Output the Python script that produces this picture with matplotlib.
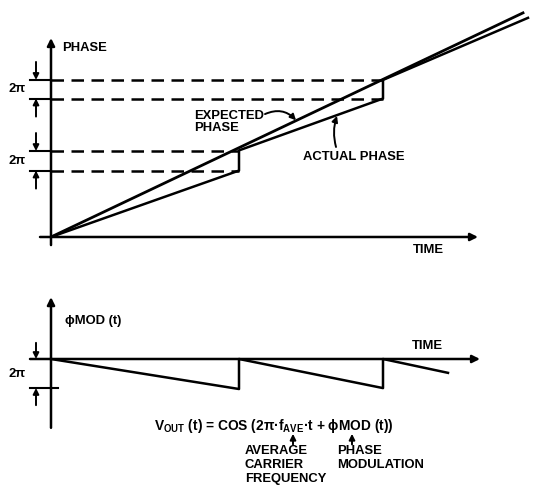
import matplotlib.pyplot as plt

plt.rcParams['font.family'] = ['Liberation Sans', 'DejaVu Sans']
plt.rcParams['font.weight'] = 'bold'
plt.rcParams['mathtext.fontset'] = 'custom'
plt.rcParams['mathtext.rm'] = 'Liberation Sans:bold'
plt.rcParams['mathtext.default'] = 'rm'

TWO_PI = 6.28

# top panel: phase (rad) vs time
t_expected = [0, 47.2]
phase_expected = [0, 72.2]
t_actual = [0, 18.8, 18.8, 33.2, 33.2, 47.7]
phase_actual = [0, 21.4, 27.9, 44.6, 50.6, 70.6]
jump_times = [18.8, 33.2]
wrap_levels = [(21.4, 27.7), (44.6, 50.6)]

# bottom panel: phase modulation (rad) vs time
t_mod = [0, 18.8, 18.8, 33.2, 33.2, 39.7]
phi_mod = [0, -6.5, 0, -6.3, 0, -3.0]

W, H = 533, 486
fig = plt.figure(figsize=(W / 100, H / 100), dpi=100)
top = fig.add_axes([0, 1 - 250 / H, 1, 250 / H])
bot = fig.add_axes([0, 0, 1, 236 / H])
top.set_xlim(-5.1, 48.2)
top.set_ylim(-4.19, 76.35)
bot.set_xlim(-5.1, 48.2)
bot.set_ylim(-27.5, 23.6)
for ax in (top, bot):
    ax.axis('off')

k = 'black'
fs = 9.4
axis_arrow = dict(arrowstyle='-|>', color=k, lw=1.8, mutation_scale=11,
                  shrinkA=0, shrinkB=0)
small_arrow = dict(arrowstyle='-|>', color=k, lw=1.4, mutation_scale=8.5,
                   shrinkA=0, shrinkB=0)


def arrow(ax, x0, y0, x1, y1, props, **kw):
    ax.annotate('', xy=(x1, y1), xytext=(x0, y0), arrowprops=dict(props, **kw))


# ---- top panel ----
arrow(top, 0, -2.6, 0, 64.1, axis_arrow)
arrow(top, -1.1, 0, 42.7, 0, axis_arrow)

for t_jump, (lo, hi) in zip(jump_times, wrap_levels):
    for lev in (lo, hi):
        top.plot([0, t_jump], [lev, lev], color=k, lw=1.8, ls=(0, (5, 3)))
        top.plot([-2.1, 0], [lev, lev], color=k, lw=1.5)
    arrow(top, -1.5, hi + 5.8, -1.5, hi, small_arrow)
    arrow(top, -1.5, lo - 5.8, -1.5, lo, small_arrow)
    top.text(-2.5, (lo + hi) / 2, '2π', ha='right', va='center', fontsize=fs)

top.plot(t_expected, phase_expected, color=k, lw=2.0)
top.plot(t_actual, phase_actual, color=k, lw=1.8)

top.text(1.1, 61.0, 'PHASE', ha='left', va='center', fontsize=fs)
top.text(36.2, -4.2, 'TIME', ha='left', va='center', fontsize=fs)
top.text(14.3, 37.0, 'EXPECTED\nPHASE', ha='left', va='center', fontsize=fs,
         linespacing=1.05)
arrow(top, 21.4, 39.6, 24.5, 37.6, small_arrow, connectionstyle='arc3,rad=-0.35')
top.text(25.2, 25.8, 'ACTUAL PHASE', ha='left', va='center', fontsize=fs)
arrow(top, 28.5, 29.0, 28.6, 39.0, small_arrow, connectionstyle='arc3,rad=-0.15')

# ---- bottom panel ----
arrow(bot, 0, -14.9, 0, 13.4, axis_arrow)
arrow(bot, -2.1, 0, 42.9, 0, axis_arrow)
bot.plot([-2.1, 0.7], [-TWO_PI, -TWO_PI], color=k, lw=1.5)
arrow(bot, -1.5, 3.5, -1.5, 0, small_arrow)
arrow(bot, -1.5, -10.0, -1.5, -TWO_PI, small_arrow)
bot.text(-2.5, -3.2, '2π', ha='right', va='center', fontsize=fs)

bot.plot(t_mod, phi_mod, color=k, lw=1.8)

bot.text(1.4, 8.2, 'ϕMOD (t)', ha='left', va='center', fontsize=fs)
bot.text(36.1, 2.8, 'TIME', ha='left', va='center', fontsize=fs)
bot.text(10.3, -14.5,
         r'V$_{OUT}$ (t) = COS (2π·f$_{AVE}$·t + ϕMOD (t))',
         ha='left', va='center', fontsize=9.9)
arrow(bot, 24.2, -18.5, 24.2, -16.2, small_arrow)
arrow(bot, 30.1, -18.5, 30.1, -16.2, small_arrow)
bot.text(19.4, -18.7, 'AVERAGE\nCARRIER\nFREQUENCY', ha='left', va='top',
         fontsize=fs, linespacing=1.2)
bot.text(28.6, -18.7, 'PHASE\nMODULATION', ha='left', va='top',
         fontsize=fs, linespacing=1.2)

fig.savefig('out.png', dpi=100, facecolor='white')
